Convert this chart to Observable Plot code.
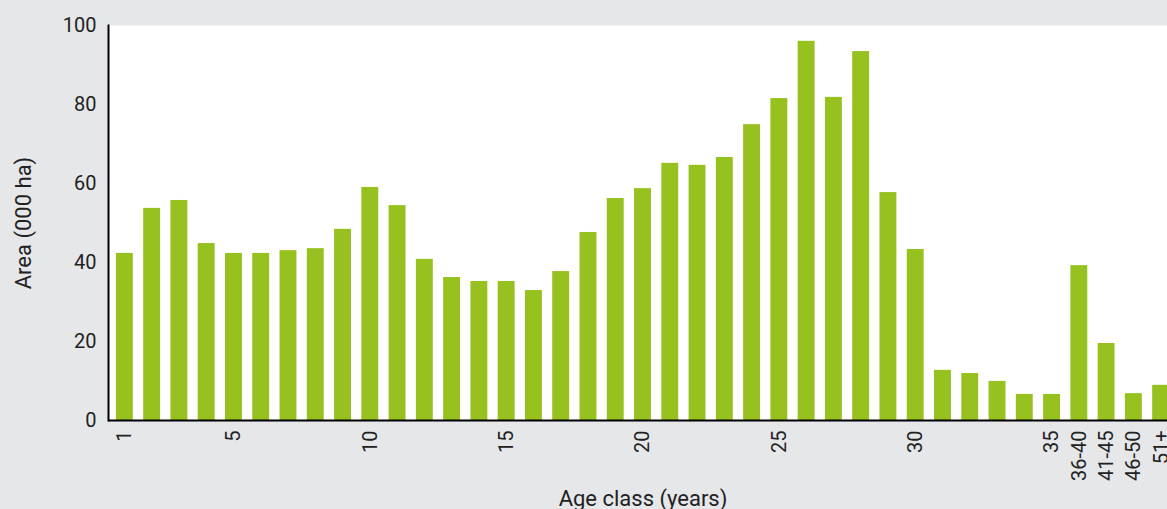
<!DOCTYPE html>
<html>
<head>
<meta charset="utf-8">
<script src="https://cdn.jsdelivr.net/npm/d3@7"></script>
<script src="https://cdn.jsdelivr.net/npm/@observablehq/plot@0.6"></script>
<style>
  html, body { margin: 0; padding: 0; background: #e6e7e9; overflow: hidden; }
  #chart { width: 1167px; height: 509px; overflow: hidden; }
  #chart svg { max-width: none !important; }
  #chart [aria-label="x-axis label"], #chart [aria-label="y-axis label"] { font-size: 22px; }
</style>
</head>
<body>
<div id="chart"></div>
<script>
const categories = ["1","2","3","4","5","6","7","8","9","10","11","12","13","14","15","16","17","18","19","20","21","22","23","24","25","26","27","28","29","30","31","32","33","34","35","36-40","41-45","46-50","51+"];
const areas = [42.3,53.7,55.7,44.8,42.3,42.3,43.0,43.5,48.4,59.0,54.4,40.8,36.2,35.2,35.2,32.9,37.7,47.6,56.2,58.7,65.1,64.6,66.6,74.9,81.5,96.0,81.8,93.4,57.7,43.3,12.7,11.9,9.9,6.6,6.6,39.2,19.5,6.8,8.9];
const xTickLabels = ["1","5","10","15","20","25","30","35","36-40","41-45","46-50","51+"];
const yTicks = [0,20,40,60,80,100];

const data = categories.map((c, i) => ({age: c, area: areas[i]}));

const chart = Plot.plot({
  width: 1177,
  height: 509,
  marginLeft: 108,
  marginRight: 0,
  marginTop: 25,
  marginBottom: 89,
  style: {fontFamily: "Roboto", fontSize: "20px", color: "#222", background: "transparent", maxWidth: "none"},
  x: {domain: categories, paddingInner: 0.38, paddingOuter: 0.29, round: false},
  y: {domain: [0, 100]},
  marks: [
    Plot.frame({fill: "white", stroke: "none"}),
    Plot.barY(data, {x: "age", y: "area", fill: "#96c11f"}),
    Plot.axisY({ticks: yTicks, tickSize: 0, tickPadding: 12, label: "Area (000 ha)", labelAnchor: "center", labelOffset: 93, labelArrow: "none", fontSize: 20}),
    Plot.axisX({ticks: xTickLabels, tickSize: 0, tickPadding: 10, tickRotate: -90, label: "Age class (years)", labelAnchor: "center", labelOffset: 85, labelArrow: "none", fontSize: 20}),
    Plot.ruleY([0], {stroke: "black", strokeWidth: 2}),
    Plot.frame({anchor: "left", stroke: "black", strokeWidth: 2})
  ]
});
document.getElementById("chart").appendChild(chart);
</script>
</body>
</html>
